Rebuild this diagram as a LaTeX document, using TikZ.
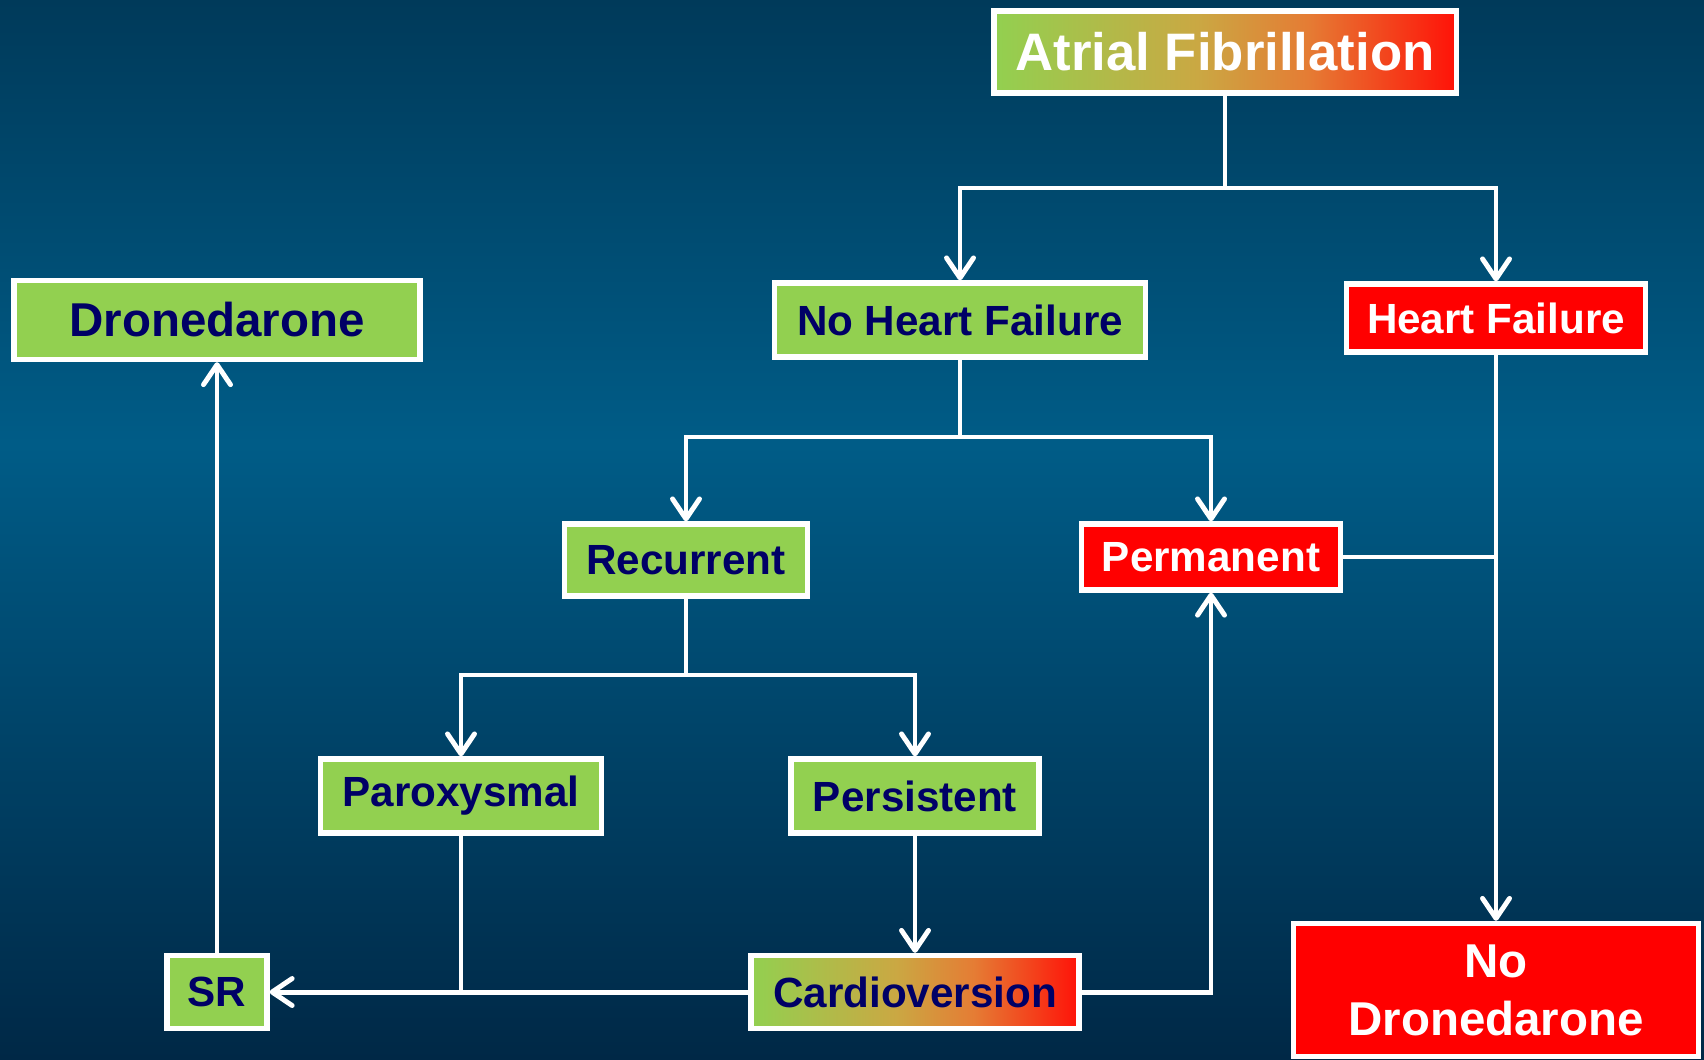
\documentclass[tikz,border=0pt]{standalone}
\usepackage{fontspec}
\setmainfont{Liberation Sans}
\usepackage{xcolor}
\usepackage{tikz}
\usetikzlibrary{arrows.meta}
\definecolor{leaf}{HTML}{92D050}
\definecolor{alarm}{HTML}{FF1208}
\definecolor{ochre}{HTML}{CAA843}
\definecolor{amber}{HTML}{E57C34}
\definecolor{ink}{HTML}{000066}
\definecolor{bgtop}{HTML}{003A5A}
\definecolor{bgmid}{HTML}{005C87}
\definecolor{bgbot}{HTML}{002846}
\pgfdeclarehorizontalshading{afgrad}{100bp}{color(0bp)=(leaf); color(25bp)=(leaf); color(47bp)=(ochre); color(59bp)=(amber); color(75bp)=(alarm); color(100bp)=(alarm)}
\pgfdeclareverticalshading{bggrad}{100bp}{color(0bp)=(bgbot); color(25bp)=(bgbot); color(54bp)=(bgmid); color(75bp)=(bgtop); color(100bp)=(bgtop)}
\begin{document}
\begin{tikzpicture}[x=0.01cm,y=-0.01cm,
  box/.style={draw=white,line width=1.5pt,inner sep=0pt,font=\bfseries\fontsize{12}{14}\selectfont},
  gbox/.style={box,fill=leaf,text=ink},
  rbox/.style={box,fill=red,text=white},
  mixbox/.style={box,shading=afgrad},
  wire/.style={white,line width=1.4pt},
  arr/.style={wire,-{Straight Barb[length=0.2cm,width=0.27cm,line cap=round,line join=round]}}]
\useasboundingbox (0,0) rectangle (1704,1059);
\shade[shading=bggrad] (0,0) rectangle (1704,1059);
%
\node (af) at (1225,52) [mixbox,text=white,minimum width=4.62cm,minimum height=0.82cm,font=\bfseries\fontsize{15}{18}\selectfont] {Atrial Fibrillation};
\node (nhf) at (960,320) [gbox,minimum width=3.71cm,minimum height=0.74cm] {No Heart Failure};
\node (hf) at (1496,318) [rbox,minimum width=2.99cm,minimum height=0.68cm] {Heart Failure};
\node (dro) at (217,320) [gbox,minimum width=4.06cm,minimum height=0.79cm,font=\bfseries\fontsize{13.5}{16}\selectfont] {Dronedarone};
\node (rec) at (686,560) [gbox,minimum width=2.43cm,minimum height=0.72cm] {Recurrent};
\node (perm) at (1211,557) [rbox,minimum width=2.59cm,minimum height=0.66cm] {Permanent};
\node (par) at (461,796) [gbox,minimum width=2.81cm,minimum height=0.74cm] {Paroxysmal};
\node (pers) at (915,796) [gbox,minimum width=2.48cm,minimum height=0.74cm] {Persistent};
\node (sr) at (217,992) [gbox,minimum width=1.0cm,minimum height=0.73cm] {SR};
\node (cv) at (915,992) [mixbox,text=ink,minimum width=3.28cm,minimum height=0.73cm] {Cardioversion};
\node (nd) at (1496,990) [rbox,align=center,minimum width=4.05cm,minimum height=1.33cm,font=\bfseries\fontsize{13.5}{16.5}\selectfont] {No\\Dronedarone};
%%
\coordinate (j1) at (1225,188);
\coordinate (j2) at (960,437);
\coordinate (j3) at (686,675);
%
\draw [wire] (af) -- (j1);
\draw [arr] (j1) -| (nhf);
\draw [arr] (j1) -| (hf);
\draw [wire] (nhf) -- (j2);
\draw [arr] (j2) -| (rec);
\draw [arr] (j2) -| (perm);
\draw [wire] (rec) -- (j3);
\draw [arr] (j3) -| (par);
\draw [arr] (j3) -| (pers);
\draw [arr] (pers) -- (cv);
\draw [wire] (par) -- (par |- sr);
\draw [arr] (cv) -- (sr);
\draw [arr] (cv) -| (perm);
\draw [arr] (sr) -- (dro);
\draw [arr] (hf) -- (nd);
\draw [wire] (perm) -- (perm -| hf);
\end{tikzpicture}
\end{document}
